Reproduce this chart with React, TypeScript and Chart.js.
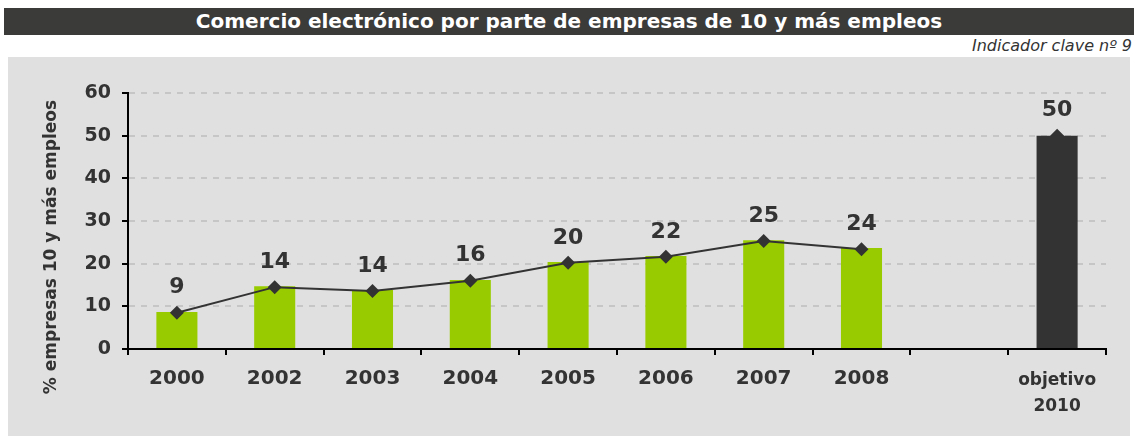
import React, { useEffect, useRef } from "react";
import { Chart, registerables } from "chart.js";

Chart.register(...registerables);

const FONT = '"DejaVu Sans", sans-serif';

const categories: (string | string[])[] = ["2000", "2002", "2003", "2004", "2005", "2006", "2007", "2008", "", ["objetivo", "2010"]];
const barValues = [8.7, 14.7, 13.8, 16.2, 20.4, 21.8, 25.5, 23.7, null, null];
const targetValues = [null, null, null, null, null, null, null, null, null, 50];
const lineValues = [8.5, 14.5, 13.6, 16.0, 20.2, 21.6, 25.3, 23.4, null, 50];
const valueLabels = ["9", "14", "14", "16", "20", "22", "25", "24", "", "50"];
const yMin = 0;
const yMax = 60;
const yStep = 10;
const titleText = "Comercio electrónico por parte de empresas de 10 y más empleos";
const subtitleText = "Indicador clave nº 9";
const yTitle = "% empresas 10 y más empleos";

const labelPlugin = {
  id: "valueLabels",
  afterDatasetsDraw(chart: any) {
    const ctx = chart.ctx;
    const meta = chart.getDatasetMeta(2);
    ctx.save();
    ctx.font = `bold 22px ${FONT}`;
    ctx.fillStyle = "#333333";
    ctx.textAlign = "center";
    ctx.textBaseline = "middle";
    meta.data.forEach((pt: any, i: number) => {
      const t = valueLabels[i];
      if (!t || !isFinite(pt.x) || !isFinite(pt.y)) return;
      ctx.fillText(t, pt.x, pt.y - 25);
    });
    ctx.translate(52, 247);
    ctx.rotate(-Math.PI / 2);
    ctx.font = `bold 17px ${FONT}`;
    ctx.fillText(yTitle, 0, 0);
    ctx.restore();
  },
};

export default function App() {
  const ref = useRef<HTMLCanvasElement | null>(null);

  useEffect(() => {
    if (!ref.current) return;
    const chart = new Chart(ref.current, {
      type: "bar",
      data: {
        labels: categories as any,
        datasets: [
          {
            type: "bar",
            data: barValues as any,
            backgroundColor: "#99cc00",
            order: 3,
            grouped: false,
            categoryPercentage: 0.42,
            barPercentage: 1,
          } as any,
          {
            type: "bar",
            data: targetValues as any,
            backgroundColor: "#333333",
            order: 1,
            grouped: false,
            categoryPercentage: 0.42,
            barPercentage: 1,
          } as any,
          {
            type: "line",
            data: lineValues as any,
            borderColor: "#333333",
            borderWidth: 2,
            pointStyle: "rectRot",
            pointRadius: 7,
            pointBackgroundColor: "#333333",
            pointBorderColor: "#333333",
            pointBorderWidth: 0,
            spanGaps: false,
            order: 2,
          } as any,
        ],
      },
      options: {
        animation: false,
        responsive: true,
        maintainAspectRatio: false,
        layout: { padding: { top: 93, right: 28, bottom: 0, left: 0 } },
        plugins: { legend: { display: false }, tooltip: { enabled: false } },
        scales: {
          x: {
            offset: true,
            grid: {
              display: true,
              drawOnChartArea: false,
              drawTicks: true,
              tickLength: 6,
              color: "#000000",
              lineWidth: 2,
            },
            border: { display: true, color: "#000000", width: 2 },
            ticks: {
              color: "#333333",
              padding: 12,
              maxRotation: 0,
              autoSkip: false,
              font: (c: any) => (c.index === 9 ? { family: FONT, size: 17, weight: "bold", lineHeight: 1.55 } : { family: FONT, size: 20, weight: "bold" }),
            },
            afterFit: (s: any) => {
              s.height = 87;
            },
          },
          y: {
            min: yMin,
            max: yMax,
            grid: {
              color: (c: any) => (c.tick && c.tick.value === 0 ? "rgba(0,0,0,0)" : "#c6c6c6"),
              lineWidth: 2,
              tickColor: "#000000",
              tickLength: 6,
              tickWidth: 2,
              tickBorderDash: [],
            } as any,
            border: { display: true, color: "#000000", width: 2, dash: [6, 6] },
            ticks: {
              stepSize: yStep,
              color: "#333333",
              padding: 11,
              font: { family: FONT, size: 19, weight: "bold" },
            },
            afterFit: (s: any) => {
              s.width = 128;
            },
          },
        },
      } as any,
      plugins: [labelPlugin],
    });
    return () => chart.destroy();
  }, []);

  return (
    <div style={{ position: "absolute", left: 0, top: 0, width: 1134, height: 436, background: "#ffffff", overflow: "hidden" }}>
      <div
        style={{
          position: "absolute",
          left: 4,
          top: 8,
          width: 1130,
          height: 27,
          background: "#3b3b39",
          color: "#ffffff",
          fontFamily: FONT,
          fontWeight: "bold",
          fontSize: 20,
          lineHeight: "27px",
          textAlign: "center",
          whiteSpace: "nowrap",
        }}
      >
        {titleText}
      </div>
      <div
        style={{
          position: "absolute",
          right: 2,
          top: 36,
          fontFamily: FONT,
          fontStyle: "italic",
          fontSize: 16,
          lineHeight: "20px",
          color: "#333333",
          whiteSpace: "nowrap",
        }}
      >
        {subtitleText}
      </div>
      <div style={{ position: "absolute", left: 8, top: 57, width: 1122, height: 379, background: "#e0e0e0" }} />
      <div style={{ position: "absolute", left: 0, top: 0, width: 1134, height: 436 }}>
        <canvas ref={ref} />
      </div>
    </div>
  );
}
